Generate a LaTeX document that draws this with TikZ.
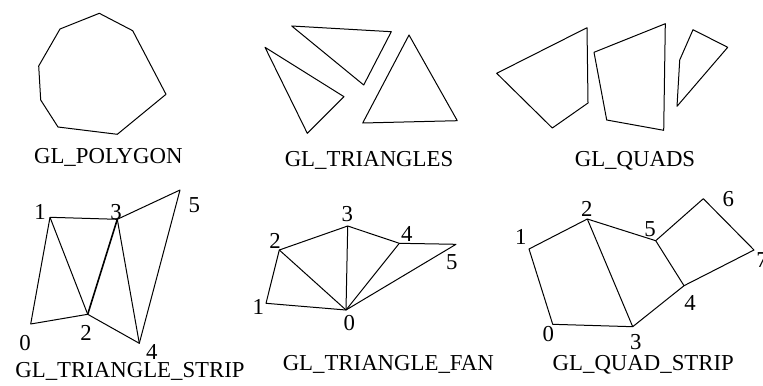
\documentclass[tikz,border=0pt]{standalone}
\usepackage{fontspec}
\setmainfont{Liberation Serif}
\tikzset{
  edge/.style={line width=0.5pt,line join=round},
  vlabel/.style={inner sep=0pt,anchor=base,font=\fontsize{11.4}{13}\selectfont},
  caption/.style={inner sep=0pt,anchor=base,font=\fontsize{11.4}{13}\selectfont}
}

\begin{document}
\begin{tikzpicture}[x=0.5pt,y=-0.5pt]
        \useasboundingbox (0,0) rectangle (763,385);
        % top row: plain shapes
        \draw[edge] (99.3,13.3)--(132.7,30.7)--(166,94.3)--(117.3,134.3)--(58,127)--(40.7,100)--(38.7,66)--(60,29)--cycle;
        \node[caption] (polycap) at (108.3,163.3) {GL\_POLYGON};
        \draw[edge] (291.7,26)--(391.3,31.7)--(363.7,85)--cycle;
        \draw[edge] (265,47.3)--(344,96.7)--(307.3,133.3)--cycle;
        \draw[edge] (409,35)--(457.3,120.7)--(362.7,123)--cycle;
        \node[caption] (tricap) at (369,166.7) {GL\_TRIANGLES};
        \draw[edge] (496.7,73.3)--(587,27.7)--(588,103)--(552.3,128)--cycle;
        \draw[edge] (594,52.3)--(665.3,23.7)--(663.7,130.3)--(606.7,120)--cycle;
        \draw[edge] (693,29.7)--(727.7,47.3)--(677,106.3)--(679.7,60)--cycle;
        \node[caption] (quadcap) at (635,166.7) {GL\_QUADS};
        % triangle strip
        \coordinate (s0) at (30.7,324); \coordinate (s1) at (50,217.3);
        \coordinate (s2) at (87.7,314.3); \coordinate (s3) at (117.3,219.3);
        \coordinate (s4) at (139.3,343.3); \coordinate (s5) at (180,190);
        \draw[edge] (s0)--(s1)--(s3)--(s5)--(s4)--(s2)--cycle;
        \draw[edge] (s1)--(s2); \draw[edge,line width=0.8pt] (s2)--(s3); \draw[edge] (s3)--(s4);
        \node[vlabel] (s0l) at (25,350) {0}; \node[vlabel] (s1l) at (40,219.3) {1};
        \node[vlabel] (s2l) at (86,340.7) {2}; \node[vlabel] (s3l) at (116,219.3) {3};
        \node[vlabel] (s4l) at (151.7,359.5) {4}; \node[vlabel] (s5l) at (194.3,212.7) {5};
        \node[caption] (stripcap) at (130,377.5) {GL\_TRIANGLE\_STRIP};
        % triangle fan
        \coordinate (f0) at (346,310); \coordinate (f1) at (266,303.3);
        \coordinate (f2) at (279.3,250); \coordinate (f3) at (347.7,226);
        \coordinate (f4) at (399.3,243.3); \coordinate (f5) at (456,244.3);
        \draw[edge] (f0)--(f1)--(f2)--(f3)--(f4)--(f5)--cycle;
        \draw[edge] (f0)--(f2); \draw[edge] (f0)--(f3); \draw[edge] (f0)--(f4);
        \node[vlabel] (f0l) at (349.3,330) {0}; \node[vlabel] (f1l) at (258.3,314) {1};
        \node[vlabel] (f2l) at (275,248.3) {2}; \node[vlabel] (f3l) at (347.3,221) {3};
        \node[vlabel] (f4l) at (406.7,241) {4}; \node[vlabel] (f5l) at (451.7,269.3) {5};
        \node[caption] (fancap) at (388.3,370) {GL\_TRIANGLE\_FAN};
        % quad strip
        \coordinate (q0) at (552.7,324.3); \coordinate (q1) at (529,249);
        \coordinate (q2) at (587.3,219); \coordinate (q3) at (632.7,326.7);
        \coordinate (q4) at (684,285.7); \coordinate (q5) at (655.7,240.7);
        \coordinate (q6) at (703.3,198.7); \coordinate (q7) at (754,250);
        \draw[edge] (q0)--(q1)--(q2)--(q5)--(q6)--(q7)--(q4)--(q3)--cycle;
        \draw[edge] (q2)--(q3); \draw[edge] (q5)--(q4);
        \node[vlabel] (q0l) at (548.3,341.7) {0}; \node[vlabel] (q1l) at (520.7,244) {1};
        \node[vlabel] (q2l) at (586.7,216) {2}; \node[vlabel] (q3l) at (635.7,349.3) {3};
        \node[vlabel] (q4l) at (690,310.7) {4}; \node[vlabel] (q5l) at (650,236) {5};
        \node[vlabel] (q6l) at (728.3,206) {6}; \node[vlabel] (q7l) at (762,267.3) {7};
        \node[caption] (quadstripcap) at (643.3,370) {GL\_QUAD\_STRIP};
      \end{tikzpicture}
\end{document}
